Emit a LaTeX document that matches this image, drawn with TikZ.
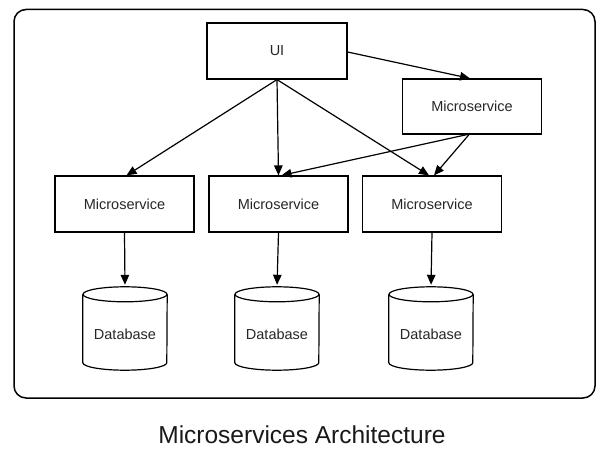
\documentclass[tikz,border=0pt]{standalone}
\usepackage{fontspec}
\setmainfont{Liberation Sans}
\usetikzlibrary{arrows.meta,calc}
\begin{document}
\begin{tikzpicture}[x=1pt,y=1pt,
  box/.style={draw, line width=1.2pt, minimum width=139pt, minimum height=55pt, inner sep=0pt,
    font=\fontsize{14.5}{17}\selectfont, text=black!85},
  dbnode/.style={minimum width=84pt, minimum height=83pt, inner sep=0pt,
    font=\fontsize{14.5}{17}\selectfont, text=black!85},
  conn/.style={line width=1.2pt, -{Triangle[length=10pt,width=8.5pt]}},
  cyl/.style={line width=1.2pt}]
\useasboundingbox (0,0) rectangle (608,456);
\draw[line width=1.5pt, rounded corners=12pt] (14,446.5) rectangle (595,58);
\node[box, minimum width=140pt, minimum height=56pt] (ui) at (277,405) {UI};
\node[box] (ms0) at (472,349.5) {Microservice};
\node[box, minimum height=56pt] (msA) at (124.5,252) {Microservice};
\node[box, minimum height=56pt] (msB) at (278.5,252) {Microservice};
\node[box, minimum height=56pt] (msC) at (432,252) {Microservice};
\foreach \n/\x in {dbA/125,dbB/277,dbC/431}{
  \node[dbnode] (\n) at (\x,127.5) {};
  \draw[cyl] ($(\n.north west)+(0,-7.5)$) -- ($(\n.south west)+(0,7.5)$)
     arc[start angle=180,end angle=360,x radius=42pt,y radius=7.5pt]
     -- ($(\n.north east)+(0,-7.5)$);
  \draw[cyl] ($(\n.north)+(0,-7.5)$) ellipse[x radius=42pt,y radius=7.5pt];
  \node[font=\fontsize{14.5}{17}\selectfont, text=black!85] at ($(\n.center)+(0,-5.5)$) {Database};
}
\draw[conn] (ui.south) -- ([xshift=2pt]msA.north);
\draw[conn] (ui.south) -- (msB.north);
\draw[conn] (ui.south) -- ([xshift=-3pt]msC.north);
\draw[conn] ([yshift=-1pt]ui.east) -- ([xshift=-2pt]ms0.north);
\draw[conn] ([xshift=-5pt]ms0.south) -- ([xshift=3pt]msB.north);
\draw[conn] ([xshift=-3pt]ms0.south) -- ([xshift=2pt]msC.north);
\draw[conn, shorten >=2pt] (msA.south) -- (dbA.north);
\draw[conn, shorten >=2pt] (msB.south) -- (dbB.north);
\draw[conn, shorten >=2pt] (msC.south) -- (dbC.north);
\node[font=\fontsize{24.5}{28}\selectfont, text=black!90] (title) at (302,21) {Microservices Architecture};
\end{tikzpicture}
\end{document}
